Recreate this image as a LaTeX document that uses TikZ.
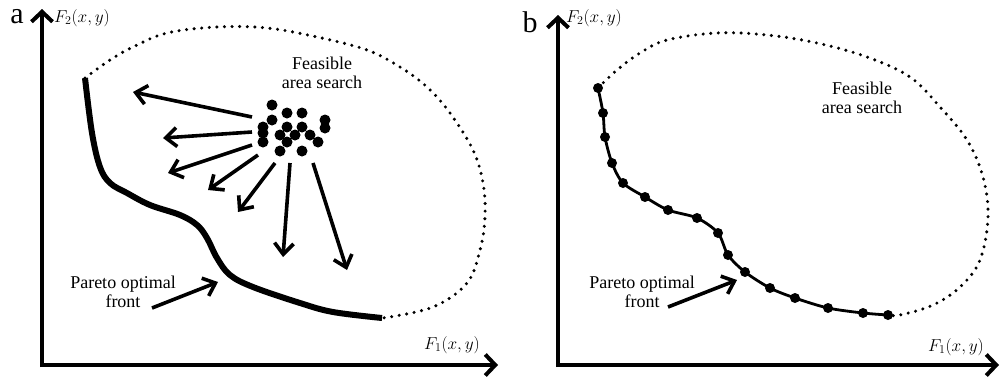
\documentclass[tikz,border=0pt]{standalone}
\usepackage{fontspec}
\setmainfont{Liberation Serif}
\usetikzlibrary{arrows.meta}
\begin{document}
\begin{tikzpicture}[x=1pt,y=-1pt,
  axis/.style={line width=4pt,-{Straight Barb[length=10pt,width=21pt]}},
  sarrow/.style={line width=3.6pt,-{Straight Barb[length=11pt,width=19pt]}},
  front/.style={line width=6pt},
  frontb/.style={line width=2.8pt},
  feas/.style={line width=3.4pt,line cap=round,dash pattern=on 0pt off 7.6pt},
  lbl/.style={font=\fontsize{18}{19}\selectfont,align=center,inner sep=0pt},
  mlbl/.style={font=\fontsize{18}{19}\selectfont,inner sep=0pt},
  panel/.style={font=\fontsize{30}{30}\selectfont,inner sep=0pt,anchor=base},
  dot/.style={circle,fill=black,inner sep=0pt,minimum size=11pt},
  dotb/.style={circle,fill=black,inner sep=0pt,minimum size=10pt}]
\useasboundingbox (0,0) rectangle (1000,378);
% ---------------- panel a ----------------
\coordinate (ao) at (42,367);
\coordinate (ay) at (42,9);
\coordinate (ao2) at (40,365);
\coordinate (ax) at (498,365);
\draw[axis] (ao) -- (ay);
\draw[axis] (ao2) -- (ax);
\node[panel] (la) at (17,23) {a};
\node[mlbl,anchor=west] (f2a) at (54,18) {$F_2(x,y)$};
\node[mlbl] (f1a) at (452,345) {$F_1(x,y)$};
% feasible boundary
\draw[feas] plot[smooth,tension=0.6] coordinates {(85,78) (110,60) (133,47) (167,33) (217,27) (267,28) (317,37) (367,50) (400,67) (427,87) (450,113) (473,150) (483,183) (485,217) (480,250) (467,283) (433,307) (383,318)};
% pareto front
\draw[front] plot[smooth,tension=0.6] coordinates {(85,78) (92,133) (100,167) (110,183) (127,193) (150,205) (180,215) (197,225) (207,238) (217,258) (230,275) (253,287) (300,303) (333,312) (382,318)};
\node[lbl] (fa) at (322,73) {Feasible\\area search};
\node[lbl] (pa) at (123,292) {Pareto optimal\\front};
\coordinate (pas) at (152,308);
\coordinate (pat) at (218,282);
\draw[sarrow] (pas) -- (pat);
% cluster
\foreach \p [count=\i] in {(272,105),(287,113),(302,113),(272,120),(263,127),(263,133),(263,142),(287,127),(302,127),(280,135),(295,135),(310,135),(325,120),(325,128),(287,142),(318,142),(280,151),(302,151)}
  \node[dot] (c\i) at \p {};
\fill[white] (287,134) circle (1.5pt);
\foreach \sx/\sy/\tx/\ty [count=\i] in {252/117/133/92, 252/132/163/138, 252/145/168/173, 258/155/208/190, 275/163/238/212, 290/163/283/257, 313/163/347/270}{
  \coordinate (s\i) at (\sx,\sy);
  \coordinate (e\i) at (\tx,\ty);
  \draw[sarrow] (s\i) -- (e\i);}
% ---------------- panel b ----------------
\coordinate (bo) at (558,367);
\coordinate (by) at (558,15);
\coordinate (bo2) at (556,365);
\coordinate (bx) at (999,365);
\draw[axis] (bo) -- (by);
\draw[axis] (bo2) -- (bx);
\node[panel] (lb) at (530,32) {b};
\node[mlbl,anchor=west] (f2b) at (566,18) {$F_2(x,y)$};
\node[mlbl] (f1b) at (956,347) {$F_1(x,y)$};
\draw[feas] plot[smooth,tension=0.6] coordinates {(598,88) (617,70) (640,53) (667,40) (717,33) (767,35) (817,43) (867,57) (910,77) (940,107) (967,140) (983,177) (988,217) (980,260) (960,287) (933,305) (900,315) (888,315)};
\draw[frontb] plot[smooth,tension=0.5] coordinates {(598,88) (603,113) (605,137) (612,163) (623,183) (645,197) (668,210) (697,218) (718,233) (728,255) (745,272) (770,288) (795,298) (828,308) (863,313) (888,315)};
\foreach \p [count=\i] in {(598,88),(603,113),(605,137),(612,163),(623,183),(645,197),(668,210),(697,218),(718,233),(728,255),(745,272),(770,288),(795,298),(828,308),(863,313),(888,315)}
  \node[dotb] (d\i) at \p {};
\node[lbl] (fb) at (862,98) {Feasible\\area search};
\node[lbl] (pb) at (642,292) {Pareto optimal\\front};
\coordinate (pbs) at (668,307);
\coordinate (pbt) at (737,280);
\draw[sarrow] (pbs) -- (pbt);
\end{tikzpicture}
\end{document}
